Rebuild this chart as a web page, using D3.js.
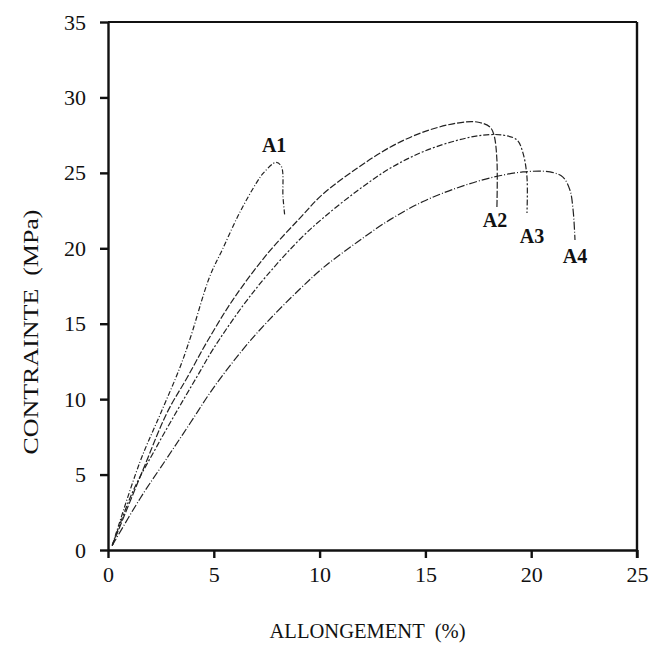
<!DOCTYPE html>
<html lang="fr">
<head>
    <meta charset="UTF-8">
    <title>Contrainte - Allongement</title>
    <style>
        body { margin: 0; background: #fff; }
        text { font-family: "Liberation Serif", "DejaVu Serif", serif; fill: #111; }
        .axis path, .axis line { stroke: #111; stroke-width: 2.4; }
        .axis text { font-size: 22px; }
        .curve { fill: none; stroke: #222; stroke-width: 1.2; }
        .lbl { font-size: 20px; font-weight: bold; text-anchor: middle; }
    </style>
</head>
<body>
    <svg id="chart" width="657" height="653"></svg>
    <script src="https://d3js.org/d3.v7.min.js"></script>
    <script>
        // Courbes contrainte (MPa) / allongement (%)
        var a1X = [0.2, 1.5, 2.5, 3.4, 3.9, 4.8, 5.4, 6.2, 7.0, 7.35, 7.95, 8.2, 8.27, 8.35];
        var a1Y = [0.3, 5.8, 9.1, 12.1, 14.1, 18.1, 19.9, 22.3, 24.3, 25.0, 25.7, 25.4, 23.4, 22.2];

        var a2X = [0.2, 1.65, 2.79, 3.73, 4.68, 5.91, 7.51, 9.07, 10.16, 11.77, 13.33, 14.89, 16.49, 17.44, 18.05, 18.24, 18.38, 18.38];
        var a2Y = [0.3, 5.3, 9.1, 11.4, 13.8, 16.6, 19.6, 22.0, 23.6, 25.3, 26.7, 27.7, 28.3, 28.37, 28.04, 27.51, 25.85, 22.74];

        var a3X = [0.2, 1.18, 2.32, 3.54, 4.21, 4.96, 6.38, 7.51, 9.07, 10.16, 11.77, 13.33, 14.89, 16.49, 17.72, 18.67, 19.33, 19.61, 19.8, 19.8];
        var a3Y = [0.3, 3.9, 6.9, 9.9, 11.5, 13.3, 16.2, 18.2, 20.6, 22.0, 23.8, 25.3, 26.4, 27.15, 27.5, 27.5, 27.18, 26.32, 24.72, 22.34];

        var a4X = [0.2, 1.51, 2.79, 3.88, 4.96, 6.38, 7.51, 9.07, 10.16, 11.77, 13.33, 14.89, 16.49, 18.05, 19.61, 20.89, 21.5, 21.83, 21.98, 22.07];
        var a4Y = [0.3, 3.4, 6.1, 8.4, 10.7, 13.3, 15.1, 17.3, 18.7, 20.4, 21.9, 23.1, 24.0, 24.66, 25.06, 25.06, 24.72, 23.86, 22.54, 20.55];

        var curveNames = ["A1", "A2", "A3", "A4"];
        // position des étiquettes (x, y en unités du graphique)
        var labelX = [7.85, 18.29, 20.04, 22.07];
        var labelY = [26.4, 21.4, 20.35, 19.0];

        var xTicks = [0, 5, 10, 15, 20, 25];
        var yTicks = [0, 5, 10, 15, 20, 25, 30, 35];

        var margin = { top: 22, right: 20, bottom: 103, left: 108 },
            width = 657 - margin.left - margin.right,
            height = 653 - margin.top - margin.bottom;

        var svg = d3.select("#chart")
                    .append("g")
                    .attr("transform", "translate(" + margin.left + "," + margin.top + ")");

        var x = d3.scaleLinear().domain([0, 25]).range([0, width]);
        var y = d3.scaleLinear().domain([0, 35]).range([height, 0]);

        // Axes
        svg.append("g")
           .attr("class", "axis")
           .attr("transform", "translate(0," + height + ")")
           .call(d3.axisBottom(x).tickValues(xTicks).tickSize(8).tickSizeOuter(0).tickPadding(8));

        svg.append("g")
           .attr("class", "axis")
           .call(d3.axisLeft(y).tickValues(yTicks).tickSize(8).tickSizeOuter(0).tickPadding(14));

        // cadre haut et droit
        svg.append("line")
           .attr("x1", 0).attr("x2", width).attr("y1", 0).attr("y2", 0)
           .attr("stroke", "#111").attr("stroke-width", 2);
        svg.append("line")
           .attr("x1", width).attr("x2", width).attr("y1", 0).attr("y2", height + 8)
           .attr("stroke", "#111").attr("stroke-width", 2.4);

        // Courbes
        var series = [
            { xs: a1X, ys: a1Y, dash: "5,2,1,2", color: "#555" },
            { xs: a2X, ys: a2Y, dash: "7,2", color: "#222" },
            { xs: a3X, ys: a3Y, dash: "6,2,2,2", color: "#222" },
            { xs: a4X, ys: a4Y, dash: "8,2,1,2", color: "#222" }
        ];

        var line = d3.line()
                     .x(function(d) { return x(d[0]); })
                     .y(function(d) { return y(d[1]); })
                     .curve(d3.curveCatmullRom.alpha(0.5));

        series.forEach(function(s) {
            svg.append("path")
               .attr("class", "curve")
               .attr("stroke", s.color)
               .attr("stroke-dasharray", s.dash)
               .attr("d", line(d3.zip(s.xs, s.ys)));
        });

        // Étiquettes
        curveNames.forEach(function(n, i) {
            svg.append("text")
               .attr("class", "lbl")
               .attr("x", x(labelX[i]))
               .attr("y", y(labelY[i]))
               .text(n);
        });

        // Titres des axes
        svg.append("text")
           .attr("x", width / 2 - 5)
           .attr("y", height + 88)
           .style("text-anchor", "middle")
           .style("font-size", "21px")
           .attr("textLength", 196)
           .attr("lengthAdjust", "spacingAndGlyphs")
           .attr("xml:space", "preserve")
           .text("ALLONGEMENT  (%)");

        svg.append("text")
           .attr("transform", "rotate(-90)")
           .attr("x", -(height / 2) - 46)
           .attr("y", -margin.left + 38)
           .style("text-anchor", "middle")
           .style("font-size", "21px")
           .attr("textLength", 245)
           .attr("lengthAdjust", "spacingAndGlyphs")
           .attr("xml:space", "preserve")
           .text("CONTRAINTE  (MPa)");
    </script>
</body>
</html>
